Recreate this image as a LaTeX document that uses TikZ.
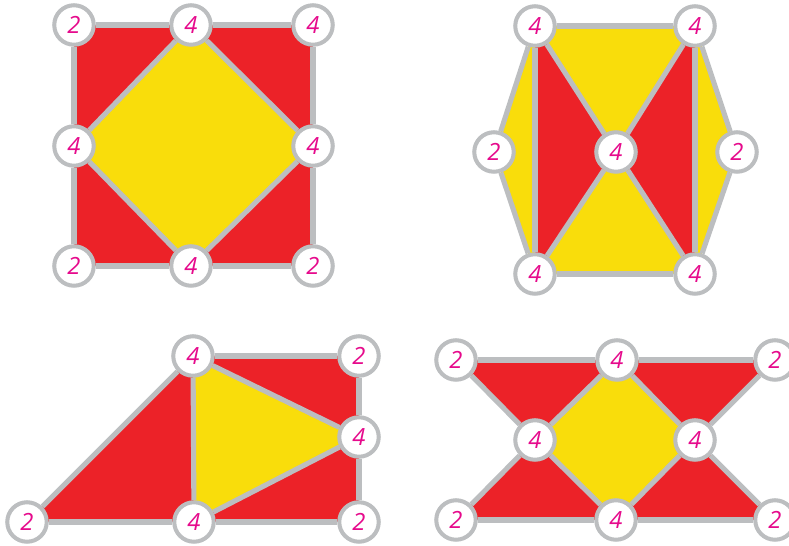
\documentclass[tikz,border=0pt]{standalone}
\usepackage{fontspec}
\newfontfamily\digitfont{Open Sans}
\usepackage{tikz}
\usetikzlibrary{backgrounds}
\definecolor{facered}{RGB}{236,34,40}
\definecolor{faceyellow}{RGB}{249,221,11}
\definecolor{edgegray}{RGB}{188,190,192}
\definecolor{labelpink}{RGB}{230,10,140}
\tikzset{
  vertex/.style={circle, draw=edgegray, line width=2.3pt, fill=white, inner sep=0pt,
      minimum size=0.79cm, text=labelpink, font=\digitfont\itshape\fontsize{13.5}{15}\selectfont},
  edge/.style={draw=edgegray, line width=2.9pt},
  redface/.style={fill=facered},
  yellowface/.style={fill=faceyellow},
}

\begin{document}
\begin{tikzpicture}[x=0.02cm, y=-0.02cm]
  \useasboundingbox (0,0) rectangle (789,546);
  % square
  \foreach \n/\x/\y/\d in {a1/74/25/2, a2/191/25/4, a3/313/25/4, a4/74/146/4,
      a5/313/146/4, a6/74/266/2, a7/191/266/4, a8/313/266/2}
    \node[vertex] (\n) at (\x,\y) {\d};
  % hexagon
  \foreach \n/\x/\y/\d in {b1/535/26/4, b2/695/26/4, b3/494/152/2, b4/616/152/4,
      b5/737/152/2, b6/535/274/4, b7/695/274/4}
    \node[vertex] (\n) at (\x,\y) {\d};
  % trapezium
  \foreach \n/\x/\y/\d in {c1/193/356/4, c2/359/356/2, c3/359/437/4,
      c4/27/522/2, c5/194/522/4, c6/359/522/2}
    \node[vertex] (\n) at (\x,\y) {\d};
  % hourglass
  \foreach \n/\x/\y/\d in {d1/456/360/2, d2/617/360/4, d3/775/360/2, d4/535/440/4,
      d5/695/440/4, d6/456/520/2, d7/616/520/4, d8/775/520/2}
    \node[vertex] (\n) at (\x,\y) {\d};

  \begin{pgfonlayer}{background}
    \fill[redface] (a1.center) -- (a3.center) -- (a8.center) -- (a6.center) -- cycle;
    \fill[yellowface] (a2.center) -- (a5.center) -- (a7.center) -- (a4.center) -- cycle;
    \fill[yellowface] (b1.center) -- (b2.center) -- (b5.center) -- (b7.center)
      -- (b6.center) -- (b3.center) -- cycle;
    \fill[redface] (b1.center) -- (b4.center) -- (b6.center) -- cycle;
    \fill[redface] (b2.center) -- (b7.center) -- (b4.center) -- cycle;
    \fill[redface] (c4.center) -- (c1.center) -- (c2.center) -- (c6.center) -- cycle;
    \fill[yellowface] (c1.center) -- (c3.center) -- (c5.center) -- cycle;
    \fill[redface] (d1.center) -- (d2.center) -- (d3.center) -- (d5.center)
      -- (d8.center) -- (d7.center) -- (d6.center) -- (d4.center) -- cycle;
    \fill[yellowface] (d2.center) -- (d5.center) -- (d7.center) -- (d4.center) -- cycle;
    \foreach \p/\q in {a1/a2, a2/a3, a3/a5, a5/a8, a8/a7, a7/a6, a6/a4, a4/a1,
        a2/a5, a5/a7, a7/a4, a4/a2,
        b1/b2, b2/b5, b5/b7, b7/b6, b6/b3, b3/b1, b1/b6, b2/b7,
        b1/b4, b4/b7, b2/b4, b4/b6,
        c1/c2, c2/c3, c3/c6, c6/c5, c5/c4, c4/c1, c1/c5, c1/c3, c3/c5,
        d1/d2, d2/d3, d3/d5, d5/d8, d8/d7, d7/d6, d6/d4, d4/d1,
        d2/d5, d5/d7, d7/d4, d4/d2}
      \draw[edge] (\p) -- (\q);
  \end{pgfonlayer}
\end{tikzpicture}
\end{document}
